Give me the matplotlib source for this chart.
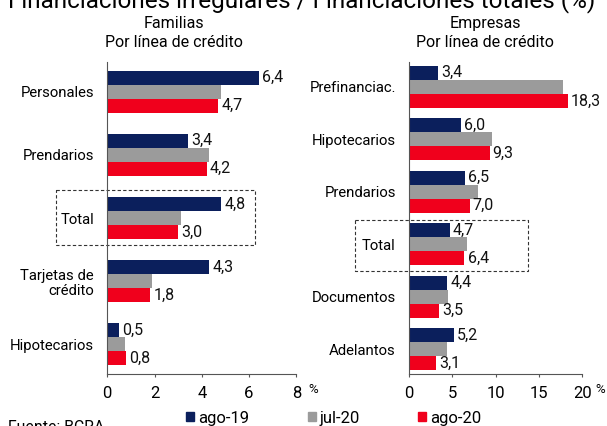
import matplotlib
matplotlib.use("Agg")
import matplotlib.pyplot as plt
from matplotlib.patches import Rectangle

plt.rcParams["font.family"] = ["Roboto", "DejaVu Sans"]
plt.rcParams["font.size"] = 10

NAVY = "#0b1f5c"
GRAY = "#9b9b9b"
RED = "#f0001c"

SERIES = ["ago-19", "jul-20", "ago-20"]
COLOURS = [NAVY, GRAY, RED]

fam_cats = ["Personales", "Prendarios", "Total", "Tarjetas de\ncrédito", "Hipotecarios"]
fam_ago19 = [6.4, 3.4, 4.8, 4.3, 0.5]
fam_jul20 = [4.8, 4.3, 3.1, 1.9, 0.75]
fam_ago20 = [4.7, 4.2, 3.0, 1.8, 0.8]

emp_cats = ["Prefinanciac.", "Hipotecarios", "Prendarios", "Total", "Documentos", "Adelantos"]
emp_ago19 = [3.4, 6.0, 6.5, 4.7, 4.4, 5.2]
emp_jul20 = [17.8, 9.6, 8.0, 6.7, 4.5, 4.4]
emp_ago20 = [18.3, 9.3, 7.0, 6.4, 3.5, 3.1]

W, H = 607, 426
fig = plt.figure(figsize=(W / 100, H / 100), dpi=100)


def fmt(v):
    return f"{v:.1f}".replace(".", ",")


def panel(rect, cats, vals, xmax, step, ylim, bh, box, pct_x):
    ax = fig.add_axes(rect)
    n = len(cats)
    y = list(range(n))
    for k, (series, col) in enumerate(zip(vals, COLOURS)):
        pos = [i + (k - 1) * bh for i in y]
        ax.barh(pos, series, height=bh, color=col, edgecolor="none")
        if k != 1:
            for p, v in zip(pos, series):
                ax.text(v + xmax * 0.018, p, fmt(v), va="center", ha="left",
                        fontsize=11.5, color="#111111")
    ax.set_xlim(0, xmax)
    ax.set_ylim(*ylim)
    ax.set_yticks(y)
    ax.set_yticklabels(cats, fontsize=10.7, linespacing=1.1)
    ax.tick_params(axis="y", length=0, pad=9.5)
    ax.set_xticks(range(0, xmax + 1, step))
    ax.tick_params(axis="x", length=2.5, width=0.8, color="#555555", labelsize=12, pad=6)
    for s in ("top", "right"):
        ax.spines[s].set_visible(False)
    for s in ("left", "bottom"):
        ax.spines[s].set_color("#555555")
        ax.spines[s].set_linewidth(0.8)
    ti = cats.index("Total")
    x0, x1, d0, d1 = box
    ax.add_patch(Rectangle((x0, ti - d0), x1 - x0, d0 + d1, fill=False,
                           linestyle=(0, (3, 2)), linewidth=0.8, edgecolor="#333333",
                           clip_on=False))
    fig.text(pct_x / W, 1 - 389.5 / H, "%", fontsize=9.5, ha="left", va="center")
    return ax


panel([107.3 / W, 52 / H, 189 / W, 312 / H], fam_cats,
      [fam_ago19, fam_jul20, fam_ago20], 8, 2, (4.468, -0.468), 0.222,
      (-2.17, 6.25, 0.45, 0.42), 308)
panel([409 / W, 52 / H, 173.3 / W, 312 / H], emp_cats,
      [emp_ago19, emp_jul20, emp_ago20], 20, 5, (5.474, -0.472), 0.268,
      (-6.19, 13.76, 0.46, 0.52), 595)

fig.text(8 / W, 1 - 7 / H, "Financiaciones irregulares / Financiaciones totales (%)",
         fontsize=17.5, ha="left", va="baseline")
fig.text(174 / W, 1 - 28 / H, "Familias", ha="center", va="baseline", fontsize=11.5)
fig.text(174 / W, 1 - 47 / H, "Por línea de crédito", ha="center", va="baseline", fontsize=11.5)
fig.text(485 / W, 1 - 28 / H, "Empresas", ha="center", va="baseline", fontsize=11.5)
fig.text(485 / W, 1 - 47 / H, "Por línea de crédito", ha="center", va="baseline", fontsize=11.5)
fig.text(8 / W, 1 - 432 / H, "Fuente: BCRA", ha="left", va="baseline", fontsize=11.4)

handles = [Rectangle((0, 0), 1, 1, color=c) for c in COLOURS]
fig.legend(handles, SERIES, loc="center", bbox_to_anchor=(334 / W, 8 / H), ncol=3,
           frameon=False, handlelength=0.48, handleheight=0.48, handletextpad=0.24,
           columnspacing=3.5, fontsize=12)

fig.savefig("out.png", dpi=100)
